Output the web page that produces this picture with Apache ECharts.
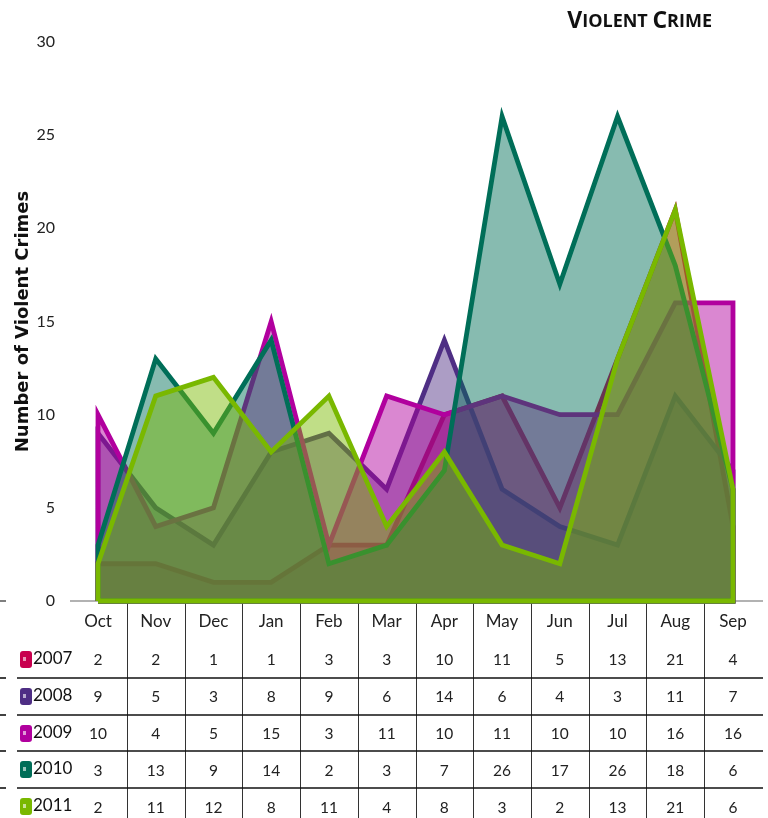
<!DOCTYPE html>
<html>
<head>
<meta charset="utf-8">
<script src="https://cdn.jsdelivr.net/npm/echarts@6/dist/echarts.min.js"></script>
<style>
html,body{margin:0;padding:0;background:#fff;}
#c{width:768px;height:818px;}
</style>
</head>
<body>
<div id="c"></div>
<script>
const months = ['Oct','Nov','Dec','Jan','Feb','Mar','Apr','May','Jun','Jul','Aug','Sep'];
const years = ['2007','2008','2009','2010','2011'];
const v2007 = [2,2,1,1,3,3,10,11,5,13,21,4];
const v2008 = [9,5,3,8,9,6,14,6,4,3,11,7];
const v2009 = [10,4,5,15,3,11,10,11,10,10,16,16];
const v2010 = [3,13,9,14,2,3,7,26,17,26,18,6];
const v2011 = [2,11,12,8,11,4,8,3,2,13,21,6];
const yMin = 0, yMax = 30, yStep = 5;

const seriesValues = [v2007, v2008, v2009, v2010, v2011];
const colors = ['#C8004E','#4E2E84','#B1009E','#006E58','#79B800'];
const FONT = 'Lato,"Liberation Sans",sans-serif';

// closed outline: baseline -> values -> baseline -> back along baseline
function outline(vals){
  const last = vals.length - 1;
  const pts = [[0, yMin]];
  vals.forEach((v,i)=>pts.push([i, v]));
  pts.push([last, yMin]);
  pts.push([0, yMin]);
  return pts;
}

const chart = echarts.init(document.getElementById('c'), null, {renderer:'canvas'});

const rich = {
  m:{fontFamily:FONT,fontSize:17,lineHeight:38,color:'#222'},
  v:{fontFamily:FONT,fontSize:15.5,lineHeight:37,color:'#222'}
};

chart.setOption({
  animation:false,
  backgroundColor:'#fff',
  title:{
    text:'{a|V}{b|IOLENT }{a|C}{b|RIME}',
    right:51, top:5,
    textStyle:{
      rich:{
        a:{fontFamily:'"Open Sans",sans-serif',fontWeight:'bold',fontSize:23,color:'#111'},
        b:{fontFamily:'"Open Sans",sans-serif',fontWeight:'bold',fontSize:18,color:'#111'}
      }
    }
  },
  grid:{left:98,right:35,top:42,bottom:217,containLabel:false},
  xAxis:{
    type:'category',
    data:months,
    boundaryGap:false,
    axisLine:{show:false},
    axisTick:{show:false},
    splitLine:{show:false},
    axisLabel:{
      interval:0,
      margin:2,
      verticalAlign:'top',
      formatter:function(val, idx){
        let s = '{m|' + val + '}';
        seriesValues.forEach(arr => { s += '\n{v|' + arr[idx] + '}'; });
        return s;
      },
      rich:rich
    }
  },
  yAxis:{
    type:'value',
    min:yMin, max:yMax, interval:yStep,
    name:'Number of Violent Crimes',
    nameLocation:'middle',
    nameGap:66,
    nameMoveOverlap:false,
    nameTextStyle:{fontFamily:'"DejaVu Sans",sans-serif',fontWeight:'bold',fontSize:18,color:'#111'},
    axisLine:{show:false},
    axisTick:{show:false},
    splitLine:{show:false},
    axisLabel:{margin:43,fontFamily:FONT,fontSize:16,color:'#222'}
  },
  series: years.map((y,k)=>({
    name:y,
    type:'line',
    z:2+k,
    data:outline(seriesValues[k]),
    showSymbol:false,
    clip:false,
    lineStyle:{color:colors[k],width:4.8,join:'miter'},
    itemStyle:{color:colors[k]},
    areaStyle:{color:colors[k],opacity:0.47}
  }))
});

// table lines & row legend
const xs = months.map((m,i)=>chart.convertToPixel({xAxisIndex:0}, i));
const y0 = chart.convertToPixel({yAxisIndex:0}, yMin);
const H = 818;
const rowCenters = [659, 696, 733, 769, 806];
const g = [];
g.push({type:'line',shape:{x1:70,y1:y0,x2:763,y2:y0},style:{stroke:'#999',lineWidth:1.5},z:1});
for(let i=0;i<xs.length-1;i++){
  const x = Math.round((xs[i]+xs[i+1])/2)+0.5;
  g.push({type:'line',shape:{x1:x,y1:y0,x2:x,y2:H},style:{stroke:'#333',lineWidth:1},z:1});
}
for(let r=0;r<rowCenters.length-1;r++){
  const y = Math.round((rowCenters[r]+rowCenters[r+1])/2);
  g.push({type:'line',shape:{x1:17,y1:y,x2:763,y2:y},style:{stroke:'#111',lineWidth:1.6},z:1});
  g.push({type:'line',shape:{x1:0,y1:y,x2:6,y2:y},style:{stroke:'#111',lineWidth:1.6},z:1});
}
g.push({type:'line',shape:{x1:0,y1:y0,x2:6,y2:y0},style:{stroke:'#555',lineWidth:1.5},z:1});
years.forEach((y,k)=>{
  const cy = rowCenters[k];
  g.push({type:'rect',shape:{x:20,y:cy-8,width:12,height:17,r:3},style:{fill:colors[k]},z:2});
  g.push({type:'rect',shape:{x:23,y:cy-2,width:3,height:4},style:{fill:'rgba(255,255,255,0.6)'},z:3});
  g.push({type:'text',style:{text:y,x:33,y:cy,verticalAlign:'middle',align:'left',fontFamily:FONT,fontSize:17,fill:'#111'},z:2});
});
chart.setOption({graphic:g});
</script>
</body>
</html>
